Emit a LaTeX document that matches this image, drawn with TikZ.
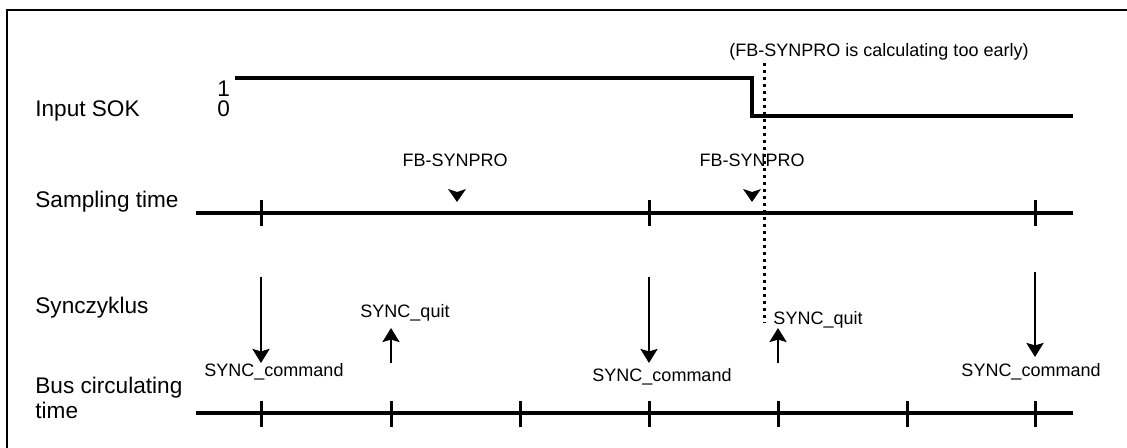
\documentclass[tikz,border=0pt]{standalone}
\usepackage{fontspec}
\setmainfont{Liberation Sans}
\usetikzlibrary{arrows.meta,positioning}

\begin{document}
\begin{tikzpicture}[
  x=0.5pt, y=-0.5pt,
  rowtitle/.style={inner sep=0pt, anchor=base west, font=\fontsize{11.3}{13.5}\selectfont},
  note/.style={inner sep=0pt, anchor=base, font=\fontsize{9}{11}\selectfont},
  frame/.style={line width=1.4pt},
  sokline/.style={line width=1.7pt},
  timeline/.style={line width=1.7pt},
  tickmark/.style={line width=1.5pt},
  dotline/.style={line width=1.5pt, dash pattern=on 1.3pt off 2.2pt},
  arrow/.style={-{Stealth[length=7pt, width=8.5pt, inset=1.2pt]}, line width=1.3pt},
]
\useasboundingbox (0,0) rectangle (1127,448);
\draw[frame] (7,448) |- (1127,10);

% row titles
\node[rowtitle] (sok) at (35,117) {Input SOK};
\node[rowtitle] (sampling) at (35,208) {Sampling time};
\node[rowtitle] (sync) at (35,313) {Synczyklus};
\node[rowtitle] (bus) at (35,393) {Bus circulating};
\node[rowtitle] (bustime) at (35,418) {time};

% input SOK
\node[rowtitle] (zero) at (217,117) {0};
\node[rowtitle] (one) at (217,97) {1};
\coordinate (high) at (235,78);
\coordinate (fall) at (752,78);
\coordinate (low) at (1073,116);
\draw[sokline] (high) -- (fall) |- (low);

\node[note] (early) at (879,57) {(FB-SYNPRO is calculating too early)};
\coordinate (dottop) at (764,63);
\coordinate (dotbot) at (764,323);
\draw[dotline] (dottop) -- (dotbot);

% sampling time
\draw[timeline] (196,213) -- (1073,213);
\foreach \x [count=\i] in {261,649,1035} {
  \coordinate (s\i) at (\x,213);
  \draw[tickmark] (\x,200) -- (\x,226);
}
\foreach \x [count=\i] in {455,752}
  \node[note] (fb\i) at (\x,167) {FB-SYNPRO};
\foreach \x in {457,752}
  \fill (\x,202) -- ++(-9,-13) -- ++(9,3) -- ++(9,-3) -- cycle;

% bus circulating time
\draw[timeline] (196,413) -- (1073,413);
\foreach \x [count=\i] in {261,391,520,649,778,907,1035} {
  \coordinate (b\i) at (\x,413);
  \draw[tickmark] (\x,401) -- (\x,427);
}

% SYNC_command
\foreach \x/\top/\tip [count=\i] in {261/277/363, 649/277/363, 1035/272/357} {
  \coordinate (cmd\i) at (\x,\top);
  \coordinate (cmdtip\i) at (\x,\tip);
  \draw[arrow] (cmd\i) -- (cmdtip\i);
}
\node[note] (cmdtext1) at (274,376) {SYNC\_command};
\node[note] (cmdtext2) at (662,381) {SYNC\_command};
\node[note] (cmdtext3) at (1031,376) {SYNC\_command};

% SYNC_quit
\foreach \x [count=\i] in {391,778} {
  \coordinate (quit\i) at (\x,363);
  \coordinate (quittip\i) at (\x,328);
  \draw[arrow] (quit\i) -- (quittip\i);
}
\node[note] (quittext1) at (405,317) {SYNC\_quit};
\node[note] (quittext2) at (818,324) {SYNC\_quit};
\end{tikzpicture}
\end{document}
